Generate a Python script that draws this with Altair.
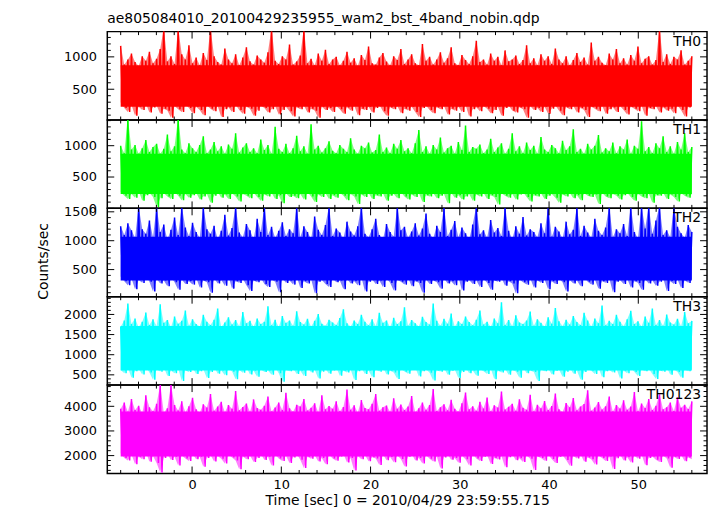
import altair as alt
import pandas as pd

TITLE = "ae805084010_20100429235955_wam2_bst_4band_nobin.qdp"
X_TITLE = "Time [sec] 0 = 2010/04/29 23:59:55.715"
Y_TITLE = "Counts/sec"
T_START = -8.0     # first time bin [sec]
T_END = 56.0       # last time bin [sec]
X_DOMAIN = [-9.5, 57.7]
X_MAJOR = [0, 10, 20, 30, 40, 50]
X_MINOR = [-8, -6, -4, -2, 2, 4, 6, 8, 12, 14, 16, 18, 22, 24, 26, 28,
           32, 34, 36, 38, 42, 44, 46, 48, 52, 54, 56]

# ---- TH0 (upper / lower extremes per time bin) ----
th0_hi = [1170, 880, 960, 1050, 920, 860, 1010, 940, 1080, 900, 970, 1120, 1450, 930, 1010, 890, 1450, 1040, 960, 1180,
          900, 990, 870, 1060, 950, 1450, 1010, 920, 880, 1130, 960, 900, 1040, 870, 990, 1150, 930, 880, 1020, 960,
          910, 1070, 1450, 940, 890, 1010, 960, 1190, 880, 930, 1020, 1450, 900, 970, 870, 1050, 940, 1110, 890, 960,
          1000, 870, 940, 1080, 910, 980, 860, 1030, 950, 1160, 900, 880, 990, 1060, 930, 870, 1010, 950, 1120, 890,
          960, 1040, 900, 870, 1200, 940, 1000, 880, 960, 1070, 910, 980, 1150, 900, 870, 1030, 950, 890, 1010, 1250,
          920, 960, 880, 1050, 940, 1000, 870, 1100, 930, 960, 1020, 890, 950, 1180, 900, 980, 870, 1040, 940, 1010,
          890, 1130, 960, 900, 1010, 870, 950, 1060, 920, 990, 880, 1220, 940, 1000, 910, 870, 1050, 960, 1120, 900,
          980, 880, 1030, 940, 1160, 900, 970, 1010, 880, 950, 1450, 920, 1040, 890, 1000, 960, 1100, 880, 940, 1010]
th0_lo = [300, 210, 150, 260, 90, 230, 180, 280, 140, 220, 250, 120, 200, 170, 60, 240, 190, 150, 270, 210,
          130, 230, 180, 100, 250, 200, 160, 240, 70, 190, 220, 150, 260, 180, 120, 230, 200, 90, 170, 250,
          210, 140, 190, 240, 110, 180, 230, 160, 80, 220, 190, 250, 140, 200, 170, 60, 230, 180, 210, 150,
          240, 190, 120, 220, 170, 250, 100, 200, 180, 230, 140, 210, 260, 160, 90, 220, 190, 240, 130, 200,
          170, 230, 150, 70, 210, 250, 180, 130, 220, 190, 240, 110, 200, 170, 230, 150, 260, 80, 190, 220,
          160, 240, 200, 130, 180, 230, 90, 210, 250, 170, 140, 220, 190, 60, 240, 180, 210, 150, 230, 120,
          200, 250, 170, 100, 220, 190, 240, 140, 210, 180, 70, 230, 200, 160, 250, 120, 190, 220, 150, 240,
          180, 110, 230, 200, 160, 250, 90, 210, 190, 240, 140, 220, 170, 200, 130, 250, 180, 80, 220, 240]

# ---- TH1 ----
th1_hi = [1000, 880, 1450, 940, 1010, 870, 960, 1090, 900, 980, 1030, 870, 950, 1180, 910, 990, 1450, 940, 880, 1040,
          960, 900, 1010, 1150, 880, 940, 1060, 910, 990, 870, 1020, 950, 1200, 890, 970, 1040, 900, 960, 880, 1100,
          930, 1010, 870, 1300, 950, 900, 1030, 880, 960, 1160, 910, 990, 870, 1340, 940, 1000, 890, 960, 1070, 920,
          880, 1010, 950, 900, 1120, 940, 870, 1000, 960, 1050, 890, 930, 1180, 900, 970, 880, 1030, 950, 1090, 910,
          960, 880, 1040, 1250, 900, 990, 870, 1010, 940, 1130, 890, 960, 1000, 870, 1060, 930, 1320, 900, 980, 950,
          1020, 880, 940, 1110, 900, 970, 1040, 870, 950, 1200, 910, 990, 880, 1050, 930, 1000, 870, 1140, 940, 900,
          1010, 960, 880, 1080, 930, 990, 1260, 900, 950, 870, 1030, 940, 1000, 1170, 890, 960, 910, 1050, 880, 990,
          940, 1100, 870, 1000, 950, 1390, 910, 980, 880, 1040, 960, 1150, 900, 990, 870, 1060, 940, 1200, 900, 980]
th1_lo = [260, 200, 150, 230, 170, 280, 120, 210, 250, 180, 20, 160, 240, 190, 150, 260, 200, 130, 230, 170,
          210, 250, 140, 190, 230, 90, 200, 260, 170, 220, 150, 240, 190, 110, 230, 200, 160, 250, 180, 120,
          220, 190, 250, 150, 210, 80, 240, 180, 200, 160, 230, 140, 260, 190, 100, 220, 180, 240, 150, 210,
          170, 250, 200, 130, 230, 190, 70, 220, 180, 250, 150, 210, 190, 240, 120, 200, 230, 160, 260, 190,
          140, 220, 180, 250, 100, 210, 190, 240, 160, 200, 230, 80, 250, 170, 210, 140, 190, 230, 120, 220,
          190, 250, 150, 210, 180, 60, 240, 200, 170, 230, 140, 220, 260, 180, 110, 210, 190, 240, 150, 200,
          230, 170, 90, 220, 190, 250, 160, 210, 130, 240, 200, 180, 220, 70, 250, 190, 160, 230, 200, 140,
          210, 250, 180, 120, 230, 190, 160, 240, 90, 210, 200, 250, 150, 220, 180, 110, 240, 200, 170, 230]

# ---- TH2 ----
th2_hi = [1250, 1100, 1300, 1180, 1050, 1600, 1200, 1120, 1350, 1060, 1600, 1150, 1280, 1020, 1190, 1400, 1100, 1600, 1230, 1080,
          1310, 1150, 1050, 1600, 1200, 1120, 1260, 1030, 1170, 1450, 1090, 1220, 1600, 1140, 1060, 1290, 1180, 1020, 1380, 1150,
          1600, 1100, 1240, 1050, 1170, 1320, 1080, 1200, 1130, 1600, 1060, 1250, 1150, 1030, 1420, 1190, 1100, 1270, 1600, 1080,
          1210, 1140, 1040, 1330, 1160, 1090, 1250, 1600, 1120, 1060, 1200, 1380, 1100, 1020, 1290, 1150, 1070, 1600, 1180, 1240,
          1050, 1160, 1300, 1090, 1210, 1470, 1120, 1040, 1260, 1150, 1600, 1080, 1190, 1340, 1060, 1230, 1130, 1020, 1280, 1600,
          1110, 1180, 1050, 1360, 1140, 1220, 1080, 1600, 1170, 1030, 1250, 1120, 1410, 1090, 1200, 1150, 1060, 1300, 1130, 1600,
          1070, 1240, 1160, 1040, 1330, 1110, 1190, 1600, 1080, 1260, 1140, 1050, 1380, 1170, 1100, 1230, 1600, 1060, 1200, 1130,
          1290, 1080, 1600, 1150, 1040, 1600, 1210, 1600, 1120, 1350, 1600, 1100, 1180, 1060, 1600, 1240, 1130, 1050, 1270, 1150]
th2_lo = [380, 300, 230, 350, 160, 320, 270, 400, 290, 120, 340, 260, 310, 210, 370, 280, 150, 330, 250, 300,
          240, 360, 190, 310, 280, 100, 350, 260, 320, 220, 390, 170, 300, 270, 340, 230, 130, 310, 280, 360,
          250, 200, 330, 290, 110, 350, 270, 310, 240, 380, 180, 300, 260, 340, 90, 290, 320, 250, 200, 350,
          280, 310, 160, 340, 260, 300, 230, 370, 120, 290, 330, 250, 310, 200, 350, 270, 140, 320, 290, 240,
          360, 210, 300, 270, 100, 330, 250, 310, 280, 170, 350, 260, 300, 230, 380, 140, 290, 320, 250, 310,
          200, 340, 270, 150, 310, 290, 360, 220, 300, 260, 90, 330, 280, 240, 350, 190, 310, 270, 330, 160,
          300, 250, 350, 280, 120, 320, 260, 310, 210, 370, 290, 240, 330, 170, 300, 270, 350, 110, 290, 320,
          250, 340, 190, 300, 270, 150, 330, 260, 310, 220, 290, 360, 130, 300, 250, 330, 180, 310, 270, 340]

# ---- TH3 ----
th3_hi = [1700, 1850, 2270, 1760, 1900, 1680, 1820, 2050, 1740, 1880, 1710, 2250, 1790, 1860, 1690, 1950, 1770, 1840, 2100, 1720,
          1880, 1760, 1700, 1990, 1820, 1740, 1870, 2150, 1690, 1800, 1930, 1750, 1860, 1710, 2060, 1780, 1840, 1700, 1900, 1760,
          1820, 2200, 1730, 1870, 1690, 1960, 1790, 1850, 1720, 2080, 1810, 1750, 1890, 1700, 1840, 2010, 1770, 1720, 1870, 1800,
          1740, 1910, 2130, 1780, 1700, 1850, 1760, 1990, 1820, 1730, 1880, 1710, 2040, 1790, 1850, 1690, 1920, 1760, 1830, 2180,
          1720, 1860, 1780, 1700, 1940, 1810, 1750, 2270, 1840, 1720, 1890, 1770, 2020, 1700, 1830, 1760, 1950, 1810, 1730, 1870,
          2100, 1750, 1820, 1690, 1900, 1780, 2300, 1740, 1860, 1710, 1980, 1800, 1760, 1850, 2070, 1720, 1880, 1790, 1700, 1930,
          1770, 2160, 1830, 1710, 1870, 1750, 1960, 1810, 1740, 2040, 1850, 1700, 1900, 1780, 2220, 1730, 1840, 1760, 1990, 1820,
          1710, 1880, 2090, 1760, 1830, 1700, 1950, 1790, 2150, 1740, 1860, 1720, 2000, 1800, 1750, 1890, 1710, 2060, 1780, 1840]
th3_lo = [620, 540, 680, 430, 590, 650, 510, 700, 560, 380, 630, 580, 690, 470, 600, 540, 660, 350, 610, 570,
          680, 520, 590, 640, 420, 570, 700, 530, 610, 490, 660, 580, 390, 620, 550, 690, 510, 600, 450, 640,
          570, 610, 500, 680, 540, 330, 620, 590, 660, 520, 600, 470, 700, 560, 630, 410, 580, 650, 530, 610,
          690, 480, 600, 560, 640, 370, 590, 670, 520, 610, 440, 630, 580, 690, 510, 600, 560, 400, 650, 580,
          530, 620, 680, 460, 590, 640, 550, 360, 610, 580, 670, 500, 600, 630, 420, 570, 690, 540, 610, 480,
          640, 590, 520, 670, 390, 600, 560, 650, 500, 620, 580, 430, 690, 540, 610, 570, 350, 630, 590, 660,
          510, 600, 640, 450, 580, 690, 530, 610, 380, 570, 650, 600, 520, 680, 440, 590, 620, 560, 660, 410,
          600, 540, 680, 570, 470, 630, 590, 660, 520, 400, 610, 580, 690, 500, 640, 570, 430, 620, 590, 650]

# ---- TH0123 ----
th0123_hi = [3900, 4150, 3780, 4300, 3850, 4020, 3720, 4450, 3960, 3800, 4100, 4880, 3750, 3920, 4880, 4050, 3830, 4200, 3760, 4000,
             4350, 3880, 3740, 4080, 3950, 4500, 3820, 3990, 4180, 3760, 4050, 3900, 4620, 3840, 3970, 4110, 3780, 4280, 3930, 3860,
             4020, 4400, 3790, 3950, 4150, 3850, 4550, 3920, 3780, 4060, 3990, 4300, 3830, 3940, 4120, 3760, 4450, 3880, 4010, 3900,
             4200, 3800, 3970, 4680, 3860, 4040, 3750, 4250, 3930, 3880, 4100, 4500, 3820, 3960, 4030, 3780, 4330, 3900, 4070, 3850,
             3990, 4420, 3770, 3920, 4150, 3860, 4050, 4700, 3810, 3960, 4080, 3840, 4260, 3900, 3780, 4120, 4560, 3880, 4000, 3820,
             4180, 3910, 4360, 3790, 4040, 3950, 4600, 3870, 3980, 4100, 3820, 4290, 3940, 3860, 4470, 3790, 4060, 3920, 4210, 3850,
             4010, 4520, 3880, 3770, 4130, 3960, 4340, 3840, 3990, 4090, 4650, 3820, 3950, 4170, 3870, 4000, 4400, 3790, 4050, 3910,
             4240, 3860, 3990, 4580, 3800, 4110, 3930, 4300, 3850, 4020, 4490, 3880, 3960, 4150, 3810, 4370, 3940, 4060, 3890, 4200]
th0123_lo = [2100, 1900, 1800, 2050, 1650, 1950, 1850, 2150, 1750, 1980, 1700, 1310, 1900, 2050, 1820, 1950, 1600, 2000, 1880, 1780,
             2080, 1850, 1950, 1550, 1900, 2020, 1760, 1980, 1870, 1680, 2050, 1920, 1800, 1450, 1960, 1850, 2000, 1740, 1900, 2080,
             1820, 1950, 1600, 2030, 1880, 1780, 1990, 1700, 1920, 2060, 1830, 1500, 1950, 1870, 2010, 1760, 1900, 1650, 2040, 1880,
             1790, 1960, 2080, 1720, 1900, 1400, 1980, 1850, 2020, 1770, 1930, 1880, 1620, 2050, 1810, 1940, 1730, 2000, 1860, 1560,
             1950, 2070, 1800, 1900, 1680, 2010, 1870, 1760, 1960, 1480, 1920, 2040, 1830, 1900, 1710, 1990, 1850, 1600, 2060, 1880,
             1780, 1950, 2020, 1660, 1900, 1840, 1980, 1530, 1930, 2050, 1810, 1890, 1740, 2000, 1870, 1420, 1960, 1900, 1790, 2030,
             1860, 1700, 1950, 2010, 1820, 1590, 1980, 1880, 2060, 1750, 1920, 1850, 1640, 2000, 1900, 1780, 1960, 1460, 1890, 2040,
             1800, 1930, 1720, 1990, 1870, 2050, 1610, 1900, 1960, 1830, 1740, 2000, 1880, 1510, 1950, 1860, 2030, 1770, 1920, 1850]

# solid core of each band (read where the colour is fully saturated)
CORE = {
    "TH0": [230, 870],
    "TH1": [230, 870],
    "TH2": [310, 1070],
    "TH3": [610, 1710],
    "TH0123": [1960, 3790],
}

PANELS = [
    # name, hi, lo, color, y-domain, major y ticks, minor y ticks
    ("TH0", th0_hi, th0_lo, "#ff0000", [25, 1390], [500, 1000],
     [100, 200, 300, 400, 600, 700, 800, 900, 1100, 1200, 1300]),
    ("TH1", th1_hi, th1_lo, "#00ff00", [0, 1410], [0, 500, 1000],
     [100, 200, 300, 400, 600, 700, 800, 900, 1100, 1200, 1300, 1400]),
    ("TH2", th2_hi, th2_lo, "#0000ff", [30, 1560], [500, 1000, 1500],
     [100, 200, 300, 400, 600, 700, 800, 900, 1100, 1200, 1300, 1400]),
    ("TH3", th3_hi, th3_lo, "#00ffff", [245, 2440], [500, 1000, 1500, 2000],
     [300, 400, 600, 700, 800, 900, 1100, 1200, 1300, 1400, 1600, 1700, 1800, 1900, 2100, 2200, 2300, 2400]),
    ("TH0123", th0123_hi, th0123_lo, "#ff00ff", [1275, 4860], [2000, 3000, 4000],
     [1400, 1600, 1800, 2200, 2400, 2600, 2800, 3200, 3400, 3600, 3800, 4200, 4400, 4600, 4800]),
]

FONT = "DejaVu Sans"
W = 604
H = 89
MAJ = 7
MIN = 3.5


def envelope(hi, lo):
    n = len(hi)
    step = (T_END - T_START) / (n - 1)
    return pd.DataFrame({"t": [T_START + step * i for i in range(n)], "hi": hi, "lo": lo})


def zigzag(hi, lo):
    n = len(hi)
    step = (T_END - T_START) / (n - 1)
    rows = []
    for i in range(n):
        t = T_START + step * i
        rows.append({"t": t, "hi": hi[i]})
        if i < n - 1:
            rows.append({"t": t + step / 2, "hi": lo[i]})
    return pd.DataFrame(rows)


def make_panel(idx, name, hi, lo, color, ydom, ymaj, ymin):
    bottom = idx == len(PANELS) - 1
    xs = alt.Scale(domain=X_DOMAIN, nice=False, zero=False)
    ys = alt.Scale(domain=ydom, nice=False, zero=False)
    if bottom:
        xaxis = alt.Axis(values=X_MAJOR, ticks=False, domain=False, grid=False, format="d",
                         labelPadding=5, labelFlush=False, labelOverlap=False,
                         title=X_TITLE, titlePadding=2)
    else:
        xaxis = None
    if idx == 2:
        yaxis = alt.Axis(values=ymaj, ticks=False, domain=False, grid=False, format="d",
                         labelPadding=11, labelOverlap=False,
                         title=Y_TITLE, titlePadding=13, titleY=53)
    else:
        yaxis = alt.Axis(values=ymaj, ticks=False, domain=False, grid=False, format="d",
                         labelPadding=11, labelOverlap=False, title=None)

    band = alt.Chart(envelope(hi, lo)).mark_area(
        color=color, opacity=0.5, clip=True
    ).encode(
        x=alt.X("t:Q", scale=xs, axis=xaxis),
        y=alt.Y("hi:Q", scale=ys, axis=yaxis),
        y2="lo:Q",
    )
    core_df = pd.DataFrame({"t": [T_START], "t2": [T_END],
                            "hi": [CORE[name][1]], "lo": [CORE[name][0]]})
    core = alt.Chart(core_df).mark_rect(color=color, opacity=1).encode(
        x=alt.X("t:Q", scale=xs, axis=xaxis), x2="t2:Q",
        y=alt.Y("hi:Q", scale=ys, axis=yaxis), y2="lo:Q",
    )
    line = alt.Chart(zigzag(hi, lo)).mark_line(
        color=color, strokeWidth=1.5, clip=True
    ).encode(
        x=alt.X("t:Q", scale=xs, axis=xaxis),
        y=alt.Y("hi:Q", scale=ys, axis=yaxis),
    )

    layers = [band, core, line]
    for vals, L in ((X_MAJOR, MAJ), (X_MINOR, MIN)):
        base = alt.Chart(pd.DataFrame({"t": vals})).mark_rule(color="black", strokeWidth=1)
        layers.append(base.encode(x=alt.X("t:Q", scale=xs, axis=xaxis),
                                  y=alt.value(0), y2=alt.value(L)))
        layers.append(base.encode(x=alt.X("t:Q", scale=xs, axis=xaxis),
                                  y=alt.value(H), y2=alt.value(H - L)))
    for vals, L in ((ymaj, MAJ), (ymin, MIN)):
        base = alt.Chart(pd.DataFrame({"hi": vals})).mark_rule(color="black", strokeWidth=1)
        layers.append(base.encode(y=alt.Y("hi:Q", scale=ys, axis=yaxis),
                                  x=alt.value(0), x2=alt.value(L)))
        layers.append(base.encode(y=alt.Y("hi:Q", scale=ys, axis=yaxis),
                                  x=alt.value(W), x2=alt.value(W - L)))

    lab = alt.Chart(pd.DataFrame({"label": [name]})).mark_text(
        align="right", baseline="top", font=FONT, fontSize=14, color="black"
    ).encode(x=alt.value(W - 6), y=alt.value(3), text="label:N")
    layers.append(lab)

    ch = alt.layer(*layers).properties(width=W, height=H)
    if idx == 0:
        ch = ch.properties(title=alt.TitleParams(TITLE, anchor="start", frame="group", offset=5))
    return ch


charts = [make_panel(i, *p) for i, p in enumerate(PANELS)]

chart = alt.vconcat(*charts, spacing=0, bounds="flush").properties(
    padding={"left": 28, "top": 1, "right": 0, "bottom": 0}
).configure_view(
    stroke="black", strokeWidth=1.5
).configure_axis(
    labelFont=FONT, labelFontSize=13, labelColor="black",
    titleFont=FONT, titleFontSize=14, titleFontWeight="normal", titleColor="black"
).configure_title(
    font=FONT, fontSize=14, fontWeight="normal", color="black"
)

chart.save("out.html", embed_options={"renderer": "svg", "actions": False})
